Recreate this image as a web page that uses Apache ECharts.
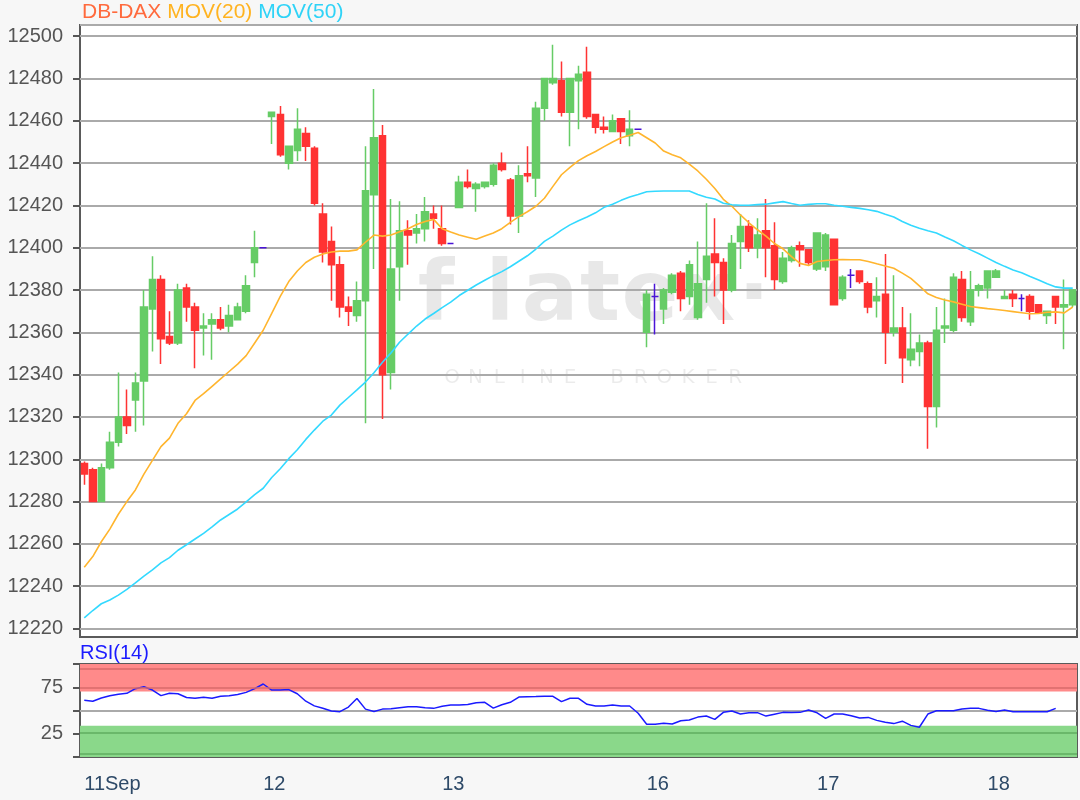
<!DOCTYPE html>
<html><head><meta charset="utf-8">
<script src="https://cdn.jsdelivr.net/npm/echarts@6/dist/echarts.min.js"></script>
<style>html,body{margin:0;padding:0;background:#f7f7f7}#c{width:1080px;height:800px}</style>
</head><body><div id="c"></div><script>
// candles: [open, close, low, high]
const candles = [
  // 11 Sep
  [12298,12293,12288,12299],[12295,12280,12280,12296],[12280,12296,12280,12298],[12296,12308,12295,12313],
  [12308,12320,12306,12341],[12320,12316,12312,12333],[12328,12336,12313,12341],[12337,12372,12316,12380],
  [12371,12385,12351,12396],[12385,12357,12345,12387],[12358,12355,12354,12370],[12355,12380,12354,12383],
  [12381,12372,12365,12383],[12372,12361,12343,12374],[12362,12363,12349,12369],[12364,12366,12347,12369],
  [12366,12362,12361,12372],[12363,12368,12360,12373],[12366,12372,12366,12374],[12370,12382,12369,12387],
  [12393,12400,12386,12408],[12400,12400,12400,12400],
  // 12
  [12462,12464,12449,12464],[12463,12444,12443,12467],[12440,12448,12437,12448],[12446,12456,12441,12466],
  [12454,12448,12441,12457],[12447,12421,12420,12448],[12416,12398,12393,12421],[12403,12392,12375,12410],
  [12392,12372,12367,12396],[12372,12370,12363,12377],[12368,12375,12365,12384],[12375,12427,12317,12448],
  [12425,12452,12390,12475],[12453,12340,12319,12458],[12341,12390,12333,12423],[12391,12408,12375,12422],
  [12408,12406,12392,12413],[12407,12409,12402,12416],[12409,12417,12403,12424],[12416,12414,12409,12420],
  [12409,12402,12401,12420],[12402,12402,12402,12402],
  // 13
  [12419,12431,12419,12434],[12431,12429,12428,12437],[12428,12430,12417,12431],[12429,12431,12428,12431],
  [12430,12439,12429,12440],[12440,12437,12436,12445],[12432,12415,12411,12433],[12415,12434,12407,12439],
  [12435,12434,12431,12448],[12433,12466,12424,12469],[12466,12480,12460,12480],[12478,12480,12477,12496],
  [12479,12464,12462,12488],[12464,12480,12448,12480],[12479,12482,12456,12486],[12483,12462,12461,12495],
  [12463,12457,12454,12463],[12457,12456,12454,12462],[12455,12460,12455,12463],[12461,12455,12449,12461],
  [12453,12456,12448,12465],[12456,12456,12456,12456],
  // 16
  [12360,12378,12353,12380],[12377,12377,12359,12383],[12371,12380,12364,12381],[12379,12387,12378,12388],
  [12388,12376,12370,12389],[12377,12392,12373,12394],[12367,12383,12366,12403],[12385,12396,12374,12421],
  [12397,12393,12377,12414],[12393,12380,12364,12395],[12380,12402,12379,12406],[12403,12410,12390,12416],
  [12410,12400,12398,12413],[12400,12406,12395,12414],[12408,12400,12386,12423],[12401,12385,12380,12412],
  [12384,12395,12383,12398],[12394,12400,12393,12401],[12401,12399,12391,12403],[12399,12393,12392,12399],
  [12390,12407,12389,12407],[12391,12406,12389,12407],
  // 17
  [12404,12373,12373,12404],[12376,12386,12375,12387],[12387,12387,12381,12390],[12389,12384,12383,12389],
  [12383,12372,12369,12384],[12375,12377,12367,12386],[12378,12360,12345,12397],[12360,12362,12358,12387],
  [12362,12348,12336,12372],[12347,12352,12344,12369],[12351,12355,12344,12359],[12355,12325,12305,12356],
  [12325,12361,12315,12372],[12362,12363,12355,12376],[12361,12386,12360,12388],[12385,12367,12365,12389],
  [12365,12380,12363,12389],[12380,12382,12377,12383],[12381,12389,12376,12389],[12386,12389,12386,12390],
  [12376,12377,12376,12380],[12378,12376,12372,12380],
  // 18
  [12376,12376,12370,12378],[12377,12370,12366,12378],[12373,12369,12369,12373],[12368,12370,12364,12370],
  [12377,12372,12364,12377],[12372,12373,12352,12385],[12373,12380,12372,12380]
];
const ma20 = [
  12249,12254,12261,12267,12274,12280,12285.5,12293,12299.5,12306,12310,12317,12321.5,12327.8,12331,12334.5,12338,12341.5,12345,12349,12355,12361,
  12369,12377,12384,12389,12393,12395.5,12397,12398,12398.4,12398.4,12399,12402.6,12406,12405.5,12406,12407.6,12409,12411,12412.4,12413.4,12409,12407.4,
  12406,12405,12404,12405.5,12407,12409,12412,12414.7,12417,12419.6,12423.4,12429,12434.5,12438,12441.2,12443.5,12445.5,12447.8,12450,12452,12453.2,12454.5,
  12452,12449.5,12445.7,12444,12442.5,12439.5,12436.3,12432.4,12428,12422.9,12419.6,12415.5,12411.8,12408.5,12405.5,12402,12399.5,12395.8,12392.6,12391.6,12393.5,12394,
  12394.3,12394.4,12394.3,12394.3,12393.5,12392.4,12391.4,12390.3,12388,12385.5,12382,12378.2,12376.5,12375.3,12374.4,12373.3,12372.2,12371.7,12371.2,12370.8,12370.3,12369.8,
  12369.3,12368.8,12368.9,12369.5,12369.7,12369.2,12372
];
const ma50 = [
  12225,12228.5,12231.7,12233.5,12235.8,12238.5,12241.6,12244.8,12247.7,12251,12253.5,12257,12259.6,12262.3,12265,12268,12271.3,12273.9,12276.5,12279.9,12283.3,12286.3,
  12291.4,12295.5,12300.3,12304.5,12309.4,12313.8,12318,12320.9,12325.6,12329.2,12332.8,12336.5,12340.9,12345.9,12350.3,12355.3,12359.2,12363,12366.3,12368.9,12371.7,12374.3,
  12377.4,12379.9,12382.4,12384.6,12386.8,12388.7,12391,12393.6,12396.2,12399.4,12403,12405.5,12408.3,12410.8,12412.8,12414.5,12416.5,12419.1,12420.6,12422.4,12424,12425.2,
  12426.5,12426.7,12426.8,12426.8,12426.8,12426.8,12425.2,12423.9,12423,12421,12420.3,12420.1,12420.1,12420.4,12420.6,12421.2,12421.8,12420.9,12420.1,12420.5,12420.8,12420.8,
  12420.1,12419.6,12419.1,12418.6,12418,12417.2,12415.8,12414.5,12412.4,12410.6,12409.2,12408,12407,12405.1,12403.3,12401.1,12399,12397.2,12395.1,12393,12391.2,12389.5,
  12388.2,12386.4,12384.8,12383,12381.5,12380.9,12380.9
];
const rsi = [
  61,60,63.5,65.8,67.5,68.5,73.5,75.6,72,66,68.5,68,64,63.1,64.2,63.1,65.3,65.9,67.2,69.5,73.5,78.5,
  72,72,72.5,68,60,55,52.5,49.5,48.7,53.7,63,51.5,49,51.5,51.9,53,54.1,54.1,53,52.3,54.5,55.9,
  55.9,56.5,58.3,58.8,52.5,56.2,58.8,64.4,64.9,65,65.3,65.3,59.5,63.1,63.1,56.7,54.8,54.8,56,54.8,54.8,47,
  35.2,35.2,36.2,35.5,38.9,39.8,42.9,44.1,40.5,48,49.5,46.2,47.7,47.7,44,46,48,47.8,48,50.5,47.5,41.6,
  46.2,46.2,44.4,42,42.6,39.4,37.3,35.9,38.5,34,32,46.2,49.7,49.7,49.8,51.6,52.3,52.3,50.2,49,50.5,48.7,
  48.7,48.7,48.7,48.7,52.3,'-','-'
];
const tickLabels = ['11Sep','12','13','16','17','18'];
const tickIndex = [0,21,42,66,86,106];

const FONT = '"Liberation Sans", Arial, sans-serif';
const UP = '#66cc66', DOWN = '#ff3333', DOJI = '#4a14d6';
const cats = candles.map((c, i) => 'k' + i);
const labelAt = {};
tickIndex.forEach((ix, k) => { labelAt[ix] = tickLabels[k]; });

const candleData = candles.map(c => {
  const item = { value: c };
  if (c[0] === c[1]) {
    item.itemStyle = { color: DOJI, color0: DOJI, borderColor: DOJI, borderColor0: DOJI, borderColorDoji: DOJI };
  }
  return item;
});

// watermark (decoration)
const wmLetters = ['f','l','a','t','e','x','\u00b7'];
const wmCenters = [436, 500, 550, 600, 650, 708, 754];
const wmSub = 'ONLINE BROKER';
const graphics = [];
wmLetters.forEach((ch, k) => graphics.push({
  type: 'text', z: 1, silent: true,
  x: wmCenters[k], y: 340,
  style: { text: ch, fill: 'rgba(0,0,0,0.09)', font: 'bold 84px "DejaVu Sans", sans-serif', align: 'center', verticalAlign: 'bottom' }
}));
wmSub.split('').forEach((ch, k) => graphics.push({
  type: 'text', z: 1, silent: true,
  x: 452 + k * 23.6, y: 378,
  style: { text: ch, fill: 'rgba(0,0,0,0.08)', font: '20px "DejaVu Sans", sans-serif', align: 'center', verticalAlign: 'middle' }
}));

const chart = echarts.init(document.getElementById('c'), null, { renderer: 'canvas' });
chart.setOption({
  backgroundColor: '#f7f7f7',
  animation: false,
  textStyle: { fontFamily: FONT },
  title: [
    { left: 82, top: 2, padding: 0, text: '{a|DB-DAX} {b|MOV(20)} {c|MOV(50)}',
      textStyle: { fontSize: 21, fontWeight: 'normal', fontFamily: FONT,
        rich: { a: { color: '#ff6a3d', fontSize: 21, fontFamily: FONT },
                b: { color: '#ffb320', fontSize: 21, fontFamily: FONT },
                c: { color: '#2fd3f7', fontSize: 21, fontFamily: FONT } } } },
    { left: 80, top: 643, padding: 0, text: 'RSI(14)', textStyle: { color: '#1a1aff', fontSize: 20, fontWeight: 'normal', fontFamily: FONT } }
  ],
  graphic: graphics,
  grid: [
    { left: 80, right: 3, top: 25, height: 612, show: true, backgroundColor: '#ffffff', borderColor: '#5a5a5a', borderWidth: 2 },
    { left: 80, right: 3, top: 25, height: 603.5 },
    { left: 80, right: 3, top: 664, height: 93, show: true, backgroundColor: '#ffffff', borderColor: '#5a5a5a', borderWidth: 2 }
  ],
  xAxis: [
    { type: 'category', gridIndex: 0, data: cats, show: false },
    { type: 'category', gridIndex: 1, data: cats, show: false },
    { type: 'category', gridIndex: 2, data: cats, boundaryGap: true,
      axisLine: { show: false },
      axisTick: { alignWithLabel: true, interval: (i) => (i in labelAt), length: 7, lineStyle: { color: '#2e4a68', width: 2 } },
      axisLabel: { interval: (i) => (i in labelAt), formatter: (v, i) => labelAt[i] || '', align: 'left', margin: 17, fontSize: 20, color: '#2e4a68', fontFamily: FONT },
      splitLine: { show: false } }
  ],
  yAxis: [
    { type: 'value', gridIndex: 0, show: false, min: 0, max: 1 },
    { type: 'value', gridIndex: 1, min: 12220, max: 12505.3, interval: 20, z: 1,
      axisLine: { show: false },
      axisTick: { show: true, length: 7, lineStyle: { color: '#555', width: 2 } },
      axisLabel: { showMaxLabel: false, margin: 17, fontSize: 20, color: '#555', fontFamily: FONT, formatter: v => String(Math.round(v)) },
      splitLine: { show: true, lineStyle: { color: '#aaaaaa', width: 2 } } },
    { type: 'value', gridIndex: 2, min: 0, max: 100, interval: 25, z: 1,
      axisLine: { show: false },
      axisTick: { show: true, length: 7, lineStyle: { color: '#555', width: 2 } },
      axisLabel: { margin: 17, fontSize: 20, color: '#555', fontFamily: FONT, formatter: v => (v === 25 || v === 75) ? String(v) : '' },
      splitLine: { show: true, lineStyle: { color: ['transparent', 'transparent', '#aaaaaa', 'transparent', 'transparent'], width: 2 } } }
  ],
  series: [
    { type: 'candlestick', name: 'DB-DAX', xAxisIndex: 1, yAxisIndex: 1, barWidth: 7, z: 3,
      itemStyle: { color: UP, color0: DOWN, borderColor: UP, borderColor0: DOWN, borderWidth: 1.5 },
      data: candleData },
    { type: 'line', name: 'MOV(20)', xAxisIndex: 1, yAxisIndex: 1, data: ma20, showSymbol: false, z: 4,
      lineStyle: { color: '#ffb52e', width: 1.6 }, itemStyle: { color: '#ffb52e' } },
    { type: 'line', name: 'MOV(50)', xAxisIndex: 1, yAxisIndex: 1, data: ma50, showSymbol: false, z: 4,
      lineStyle: { color: '#33d9ff', width: 1.6 }, itemStyle: { color: '#33d9ff' } },
    { type: 'line', name: 'RSI(14)', xAxisIndex: 2, yAxisIndex: 2, data: rsi, showSymbol: false, z: 4,
      lineStyle: { color: '#1a1aff', width: 1.5 }, itemStyle: { color: '#1a1aff' },
      markArea: { silent: true, data: [
        [{ yAxis: 70.5, itemStyle: { color: '#ff8a8a' } }, { yAxis: 100 }],
        [{ yAxis: 0, itemStyle: { color: '#8ad88a' } }, { yAxis: 33.5 }]
      ] },
      markLine: { silent: true, symbol: 'none', label: { show: false }, data: [
        { yAxis: 74, lineStyle: { color: '#d86a6a', width: 1.5, type: 'solid' } },
        { yAxis: 94.5, lineStyle: { color: '#d86a6a', width: 1.5, type: 'solid' } },
        { yAxis: 26, lineStyle: { color: '#5fae5f', width: 1.5, type: 'solid' } },
        { yAxis: 3, lineStyle: { color: '#5fae5f', width: 1.5, type: 'solid' } }
      ] } }
  ]
});
</script></body></html>
